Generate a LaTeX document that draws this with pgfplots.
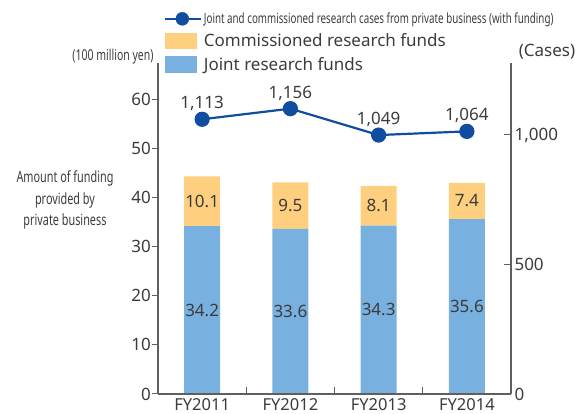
\documentclass[border=0pt]{standalone}
\usepackage{fontspec}
\setmainfont{Noto Sans}
\newfontfamily\condfont[FakeStretch=0.7]{Noto Sans}
\usepackage{pgfplots}
\pgfplotsset{compat=1.18}

\definecolor{jointblue}{RGB}{120,177,224}
\definecolor{commorange}{RGB}{255,207,128}
\definecolor{caseblue}{RGB}{16,76,160}
\definecolor{axisgray}{RGB}{95,95,95}
\definecolor{txt}{RGB}{60,60,60}

% shared box: all axes sit on the same rectangle
\pgfplotsset{
  sharedbox/.style={
    scale only axis, width=353pt, height=331pt,
    at={(158pt,20pt)}, anchor=south west,
    xmin=-0.5, xmax=3.5, ymin=0,
    /pgf/number format/assume math mode=true,
    tick label style={font=\fontsize{17}{17}\selectfont, text=txt},
    axis line style={axisgray, line width=1.3pt, -},
    tick style={axisgray, line width=1pt},
    major tick length=6pt,
  },
}

\begin{document}
\begin{tikzpicture}[x=1pt,y=1pt]
\useasboundingbox (0,0) rectangle (581,414);

% bars, left axis (100 million yen)
\begin{axis}[sharedbox, ymax=67.4,
  axis x line*=bottom, axis y line*=left,
  tick align=outside,
  ybar stacked, bar width=36pt,
  xtick={0,1,2,3}, xticklabels={FY2011,FY2012,FY2013,FY2014},
  xtick style={draw=none},
  xticklabel style={font=\fontsize{16.5}{16.5}\selectfont, inner sep=0pt, yshift=2pt},
  yticklabel style={inner sep=1pt},
  ytick={0,10,...,60},
]
  \addplot[fill=jointblue, draw=none] coordinates {(0,34.2) (1,33.6) (2,34.3) (3,35.6)};
  \addplot[fill=commorange, draw=none] coordinates {(0,10.1) (1,9.5) (2,8.1) (3,7.4)};
\end{axis}

% value labels in the middle of each segment
\begin{axis}[sharedbox, ymax=67.4, hide axis, clip=false]
  \addplot[draw=none, nodes near coords, point meta=explicit symbolic,
    every node near coord/.style={anchor=center, text=txt, font=\fontsize{17}{17}\selectfont}]
    coordinates {(0,17.1) [34.2] (1,16.8) [33.6] (2,17.15) [34.3] (3,17.8) [35.6]
                 (0,39.25) [10.1] (1,38.35) [9.5] (2,38.35) [8.1] (3,39.3) [7.4]};
\end{axis}

% right axis (cases) and the category separators
\begin{axis}[sharedbox, ymax=1278,
  axis x line*=bottom, axis y line*=right,
  tick align=inside, major tick length=7pt,
  xtick={0.5,1.5,2.5}, xticklabels={},
  ytick={0,500,1000}, yticklabels={0,500,{1,000}},
]
  \addplot[draw=none, forget plot] coordinates {(0,0)};
\end{axis}

% case counts line
\begin{axis}[sharedbox, ymax=1341, hide axis, clip=false,
  legend style={at={(0.017,1.157)}, anchor=north west, draw=none, fill=none,
    inner sep=0pt, row sep=6pt, legend cell align=left,
    nodes={text=txt, inner sep=1.5pt}},
]
  \addlegendimage{legend image code/.code={
    \draw[caseblue, line width=2.2pt] (0pt,0pt) -- (36pt,0pt);
    \fill[caseblue] (17pt,0pt) circle (6.5pt);}}
  \addlegendentry{\condfont\fontsize{14}{14}\selectfont Joint and commissioned research cases from private business (with funding)}
  \addlegendimage{legend image code/.code={\fill[commorange] (0pt,-7.5pt) rectangle (31pt,7.5pt);}}
  \addlegendentry{\fontsize{17}{17}\selectfont Commissioned research funds}
  \addlegendimage{legend image code/.code={\fill[jointblue] (0pt,-8pt) rectangle (31pt,8pt);}}
  \addlegendentry{\fontsize{17}{17}\selectfont Joint research funds}

  \addplot[caseblue, line width=2.2pt, mark=*, mark size=6.5pt,
    mark options={fill=caseblue, draw=caseblue},
    nodes near coords, point meta=explicit symbolic,
    every node near coord/.append style={text=txt, font=\fontsize{17}{17}\selectfont, yshift=4pt}]
    coordinates {(0,1113) [1,113] (1,1156) [1,156] (2,1049) [1,049] (3,1064) [1,064]};
\end{axis}

\node[text=txt, font=\condfont\fontsize{15}{15}\selectfont] at (113,357) {(100 million yen)};
\node[text=txt, font=\fontsize{17}{17}\selectfont] at (547,362) {(Cases)};
\node[text=txt, align=center, font=\condfont\fontsize{15.5}{21.5}\selectfont] at (65,214)
  {Amount of funding\\provided by\\private business};
\end{tikzpicture}
\end{document}
